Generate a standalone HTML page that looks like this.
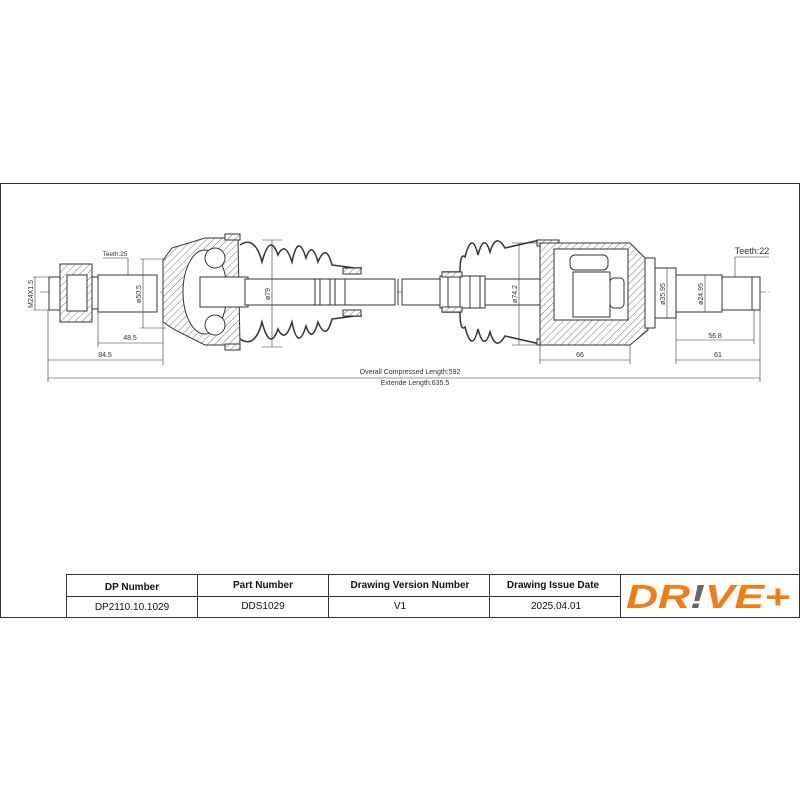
<!DOCTYPE html>
<html><head><meta charset="utf-8"><style>
body{margin:0;background:#fff}
svg{display:block}
</style></head><body>
<svg width="800" height="800" viewBox="0 0 800 800" xmlns="http://www.w3.org/2000/svg" font-family="Liberation Sans, sans-serif">
<defs>
<pattern id="h" width="5" height="5" patternUnits="userSpaceOnUse" patternTransform="rotate(45)">
<rect width="5" height="5" fill="#fff"/><line x1="0" y1="0" x2="0" y2="5" stroke="#555" stroke-width="0.8"/></pattern>
</defs>
<rect x="0.5" y="183.5" width="799" height="434" fill="#fff" stroke="#333" stroke-width="1"/>
<g stroke="#333" stroke-width="1" fill="none">
<line x1="40" y1="292" x2="770" y2="292" stroke-dasharray="12,3,3,3" stroke-width="0.6"/>
<rect x="49" y="277" width="14" height="33" fill="#fff"/>
<rect x="60" y="264" width="32" height="58" fill="url(#h)"/>
<rect x="67" y="275" width="20" height="36" fill="#fff"/>
<rect x="92" y="277" width="6" height="32" fill="#fff"/>
<rect x="98" y="275" width="59" height="37" fill="#fff"/>
<path d="M163 260 L172 248 L205 238 L238 238 L240 345 L205 345 L175 330 L163 322 Z" fill="url(#h)"/>
<ellipse cx="205" cy="292" rx="22" ry="42" fill="#fff"/>
<circle cx="215" cy="258" r="10" fill="#fff"/>
<circle cx="215" cy="325" r="10" fill="#fff"/>
<rect x="200" y="277" width="48" height="30" fill="#fff"/>
<path d="M240 245 Q255 235 262 262 Q270 232 278 255 Q285 240 292 262 Q298 232 306 258 Q312 240 318 262 Q326 242 332 265 L355 268 L362 268" stroke-width="1.5"/>
<path d="M240 339 Q255 349 262 322 Q270 352 278 329 Q285 344 292 322 Q298 352 306 326 Q312 344 318 322 Q326 342 332 319 L355 316 L362 316" stroke-width="1.5"/>
<rect x="225" y="234" width="15" height="6" fill="url(#h)"/>
<rect x="225" y="344" width="15" height="6" fill="url(#h)"/>
<rect x="343" y="268" width="18" height="6" fill="url(#h)"/>
<rect x="343" y="310" width="18" height="6" fill="url(#h)"/>
<rect x="245" y="279" width="150" height="26" fill="#fff"/>
<line x1="315" y1="279" x2="315" y2="305"/><line x1="320" y1="279" x2="320" y2="305"/>
<line x1="330" y1="279" x2="330" y2="305"/><line x1="335" y1="279" x2="335" y2="305"/>
<line x1="345" y1="279" x2="345" y2="305"/>
<line x1="398" y1="279" x2="398" y2="305"/><line x1="402" y1="279" x2="402" y2="305"/>
<rect x="402" y="279" width="40" height="26" fill="#fff"/>
<rect x="440" y="276" width="45" height="32" fill="#fff"/>
<line x1="448" y1="276" x2="448" y2="308"/><line x1="460" y1="276" x2="460" y2="308"/>
<line x1="470" y1="276" x2="470" y2="308"/><line x1="480" y1="276" x2="480" y2="308"/>
<rect x="485" y="279" width="95" height="26" fill="#fff"/>
<path d="M442 272 L460 272 Q460 252 465 257 Q472 230 478 255 Q484 232 490 252 Q496 232 505 248 L540 240" stroke-width="1.5"/>
<path d="M442 312 L460 312 Q460 332 465 327 Q472 354 478 329 Q484 352 490 332 Q496 352 505 336 L540 344" stroke-width="1.5"/>
<rect x="442" y="272" width="20" height="5" fill="url(#h)"/>
<rect x="442" y="307" width="20" height="5" fill="url(#h)"/>
<rect x="537" y="240" width="22" height="6" fill="url(#h)"/>
<rect x="537" y="339" width="22" height="6" fill="url(#h)"/>
<path d="M540 243 L630 243 L645 258 L648 330 L630 345 L540 345 Z" fill="url(#h)"/>
<path d="M554 249 L628 249 L628 320 L554 320 Z" fill="#fff"/>
<rect x="570" y="255" width="38" height="15" rx="5" fill="#fff"/>
<rect x="573" y="272" width="37" height="45" fill="#fff"/>
<rect x="610" y="278" width="14" height="30" rx="4" fill="#fff"/>
<rect x="645" y="258" width="10" height="70" fill="#fff"/>
<rect x="655" y="268" width="21" height="50" fill="#fff"/>
<rect x="676" y="275" width="46" height="37" fill="#fff"/>
<rect x="722" y="277" width="38" height="33" fill="#fff"/>
<line x1="752" y1="277" x2="752" y2="310"/>
</g>
<g stroke="#333" stroke-width="0.6" fill="none">
<line x1="48" y1="310" x2="48" y2="382"/><line x1="163" y1="312" x2="163" y2="365"/>
<line x1="98" y1="312" x2="98" y2="347"/>
<line x1="48" y1="360" x2="163" y2="360"/><line x1="98" y1="343" x2="163" y2="343"/>
<line x1="48" y1="378" x2="760" y2="378"/>
<line x1="760" y1="310" x2="760" y2="382"/>
<line x1="540" y1="345" x2="540" y2="364"/><line x1="630" y1="345" x2="630" y2="364"/>
<line x1="540" y1="360" x2="630" y2="360"/>
<line x1="676" y1="312" x2="676" y2="364"/><line x1="754" y1="310" x2="754" y2="344"/>
<line x1="676" y1="340" x2="754" y2="340"/><line x1="676" y1="360" x2="760" y2="360"/>
<line x1="35" y1="277" x2="35" y2="310"/><line x1="33" y1="277" x2="60" y2="277"/><line x1="33" y1="310" x2="60" y2="310"/>
<line x1="143" y1="259" x2="143" y2="328"/><line x1="140" y1="259" x2="166" y2="259"/><line x1="140" y1="328" x2="166" y2="328"/>
<line x1="272" y1="240" x2="272" y2="347"/><line x1="262" y1="240" x2="282" y2="240"/><line x1="262" y1="347" x2="282" y2="347"/>
<line x1="519" y1="243" x2="519" y2="345"/><line x1="512" y1="243" x2="540" y2="243"/><line x1="512" y1="345" x2="540" y2="345"/>
<line x1="667" y1="268" x2="667" y2="318"/><line x1="705" y1="275" x2="705" y2="312"/>
<line x1="128" y1="258" x2="128" y2="275"/><line x1="103" y1="258" x2="128" y2="258"/>
<line x1="735" y1="257" x2="735" y2="277"/><line x1="735" y1="257" x2="769" y2="257"/>
</g>
<g font-size="7" fill="#333" text-anchor="middle">
<text x="105" y="357">84.5</text>
<text x="130" y="340">48.5</text>
<text x="580" y="357">66</text>
<text x="718" y="357">61</text>
<text x="715" y="338">56.8</text>
<text x="115" y="256" font-size="6.5">Teeth:25</text>
<text x="752" y="254" font-size="9">Teeth:22</text>
<text x="410" y="374">Overall  Compressed  Length:592</text>
<text x="415" y="385">Extende  Length:635.5</text>
<text transform="translate(33,294) rotate(-90)">M24X1.5</text>
<text transform="translate(141,294) rotate(-90)">ø50.5</text>
<text transform="translate(270,294) rotate(-90)">ø79</text>
<text transform="translate(517,294) rotate(-90)">ø74.2</text>
<text transform="translate(665,294) rotate(-90)">ø35.95</text>
<text transform="translate(703,294) rotate(-90)">ø24.95</text>
</g>
<g stroke="#333" stroke-width="1" fill="none">
<rect x="66.5" y="574.5" width="733" height="43"/>
<line x1="66" y1="596.5" x2="620" y2="596.5"/>
<line x1="197.5" y1="574" x2="197.5" y2="617"/>
<line x1="328.5" y1="574" x2="328.5" y2="617"/>
<line x1="489.5" y1="574" x2="489.5" y2="617"/>
<line x1="620.5" y1="574" x2="620.5" y2="617"/>
</g>
<g font-size="10" fill="#111" text-anchor="middle">
<text x="132" y="590" font-weight="bold">DP Number</text>
<text x="263" y="588" font-weight="bold">Part Number</text>
<text x="410" y="588" font-weight="bold">Drawing Version Number</text>
<text x="553" y="588" font-weight="bold">Drawing Issue Date</text>
<text x="132" y="610">DP2110.10.1029</text>
<text x="263" y="609">DDS1029</text>
<text x="400" y="609">V1</text>
<text x="556" y="609">2025.04.01</text>
</g>
<text x="626" y="608" font-size="33" font-weight="bold" font-style="italic" fill="#f07d1a" textLength="164" lengthAdjust="spacingAndGlyphs">DR<tspan fill="#666">!</tspan>VE+</text>
</svg>
</body></html>
